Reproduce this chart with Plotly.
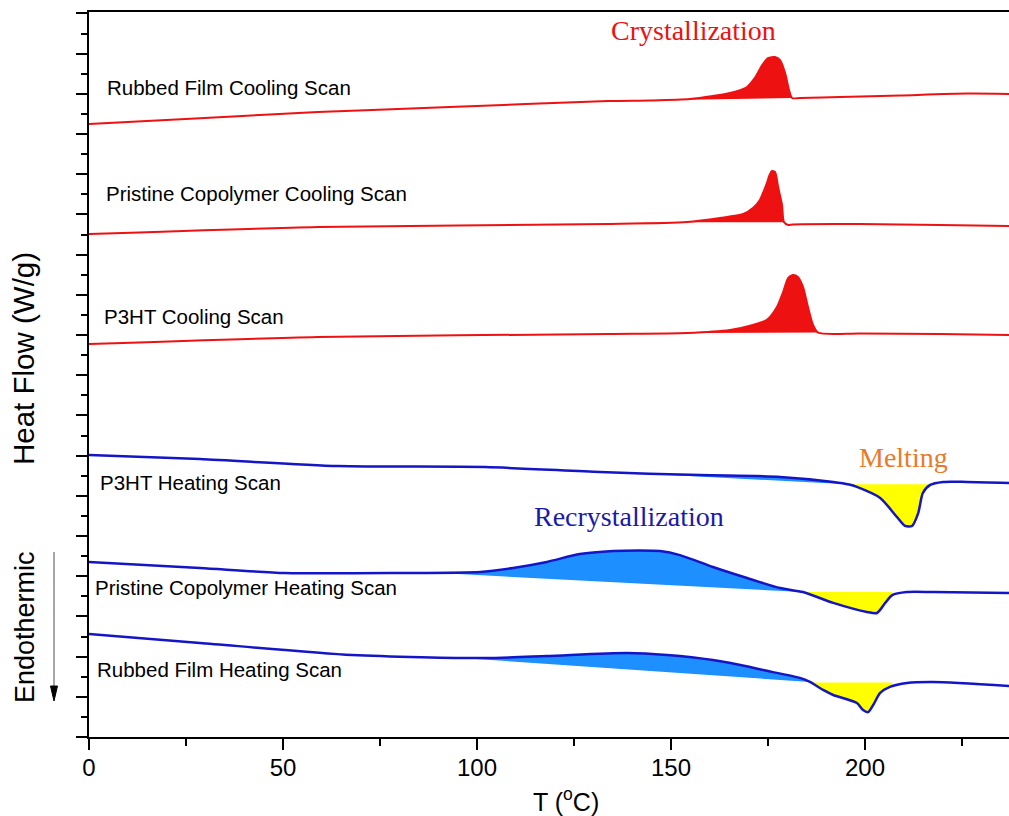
import numpy as np
import plotly.graph_objects as go

# ---- DSC traces: temperature (°C) and stacked heat flow (W/g, offset per scan) ----
rc_T = [0, 28.6, 59.0, 93.0, 133.8, 144.6, 154.9, 160.8, 165.2, 169.6, 171.6, 173.5, 175.0, 176.8,
        178.1, 179.4, 180.4, 181.2, 183.2, 193.6, 209.0, 226.3, 237.1]
rc_HF = [30.50, 30.79, 31.09, 31.34, 31.64, 31.67, 31.74, 31.89, 32.04, 32.34, 32.79, 33.43, 33.78, 33.83,
         33.68, 33.03, 32.19, 31.79, 31.79, 31.84, 31.92, 32.01, 31.99]

pc_T = [0, 59.0, 133.8, 154.1, 162.6, 168.6, 171.1, 172.9, 174.7, 175.4, 176.0, 176.8, 177.6, 178.6,
        179.1, 180.2, 181.4, 198.7, 219.3, 237.1]
pc_HF = [25.02, 25.37, 25.52, 25.62, 25.82, 26.02, 26.32, 26.72, 27.56, 27.96, 28.16, 28.11, 27.36, 26.47,
         25.62, 25.47, 25.50, 25.52, 25.47, 25.42]

p3c_T = [0, 59.0, 133.8, 154.1, 165.2, 171.1, 174.7, 177.3, 178.9, 180.2, 181.4, 182.7, 184.0, 185.3,
         186.6, 187.9, 198.7, 219.3, 237.1]
p3c_HF = [19.55, 19.90, 20.05, 20.10, 20.25, 20.50, 20.75, 21.39, 22.14, 22.84, 22.99, 22.89, 22.39, 21.39,
          20.50, 20.12, 20.08, 20.05, 20.00]

p3h_T = [0, 28.6, 64.2, 102.1, 131.7, 157.5, 178.1, 191.8, 195.9, 197.9, 203.9, 208.2, 210.3, 212.1,
         213.7, 214.9, 216.8, 220.1, 226.3, 237.1]
p3h_HF = [14.03, 13.83, 13.48, 13.43, 13.18, 13.03, 12.94, 12.69, 12.56, 12.44, 11.89, 10.95, 10.50, 10.50,
          11.14, 12.14, 12.54, 12.69, 12.69, 12.64]

ph_T = [0, 28.6, 50.5, 80.2, 100.8, 109.3, 118.0, 126.5, 135.1, 142.0, 147.2, 152.3, 160.8, 169.6,
        178.1, 184.0, 191.8, 200.5, 203.1, 205.2, 207.0, 210.8, 217.5, 237.1]
ph_HF = [8.71, 8.41, 8.16, 8.16, 8.21, 8.41, 8.71, 9.10, 9.25, 9.28, 9.25, 9.05, 8.46, 7.91,
         7.41, 7.21, 6.67, 6.22, 6.17, 6.67, 7.06, 7.21, 7.21, 7.16]

rh_T = [0, 28.6, 67.8, 102.1, 118.0, 138.7, 149.0, 160.8, 170.4, 173.7, 183.2, 185.8, 189.2, 191.8,
        197.9, 199.5, 200.8, 202.1, 203.9, 206.4, 210.8, 217.5, 237.1]
rh_HF = [5.12, 4.68, 4.08, 3.93, 4.03, 4.18, 4.08, 3.83, 3.48, 3.33, 2.94, 2.74, 2.34, 2.09,
         1.69, 1.34, 1.24, 1.59, 2.19, 2.49, 2.69, 2.74, 2.54]

# scan labels: (text, left temperature, heat-flow level)
scan_labels = [
    ("Rubbed Film Cooling Scan", 4.1, 32.29),
    ("Pristine Copolymer Cooling Scan", 3.8, 27.06),
    ("P3HT Cooling Scan", 3.3, 20.90),
    ("P3HT Heating Scan", 2.3, 12.64),
    ("Pristine Copolymer Heating Scan", 1.0, 7.43),
    ("Rubbed Film Heating Scan", 1.5, 3.38),
]

# shaded peak windows (°C)
cryst_windows = [(rc_T, rc_HF, 142.0, 181.2), (pc_T, pc_HF, 152.0, 179.2), (p3c_T, p3c_HF, 154.1, 187.9)]
recryst_windows = [(p3h_T, p3h_HF, 140.0, 195.5), (ph_T, ph_HF, 88.0, 184.0), (rh_T, rh_HF, 93.0, 185.8)]
melt_windows = [(p3h_T, p3h_HF, 195.5, 216.8), (ph_T, ph_HF, 184.0, 207.0), (rh_T, rh_HF, 186.0, 207.0)]

x_ticks = [0, 50, 100, 150, 200]
x_minor = [25, 75, 125, 175, 225]

RED = "#EE1111"
BLUE = "#1515C8"
FILL_BLUE = "#1E8FFF"
YELLOW = "#FFFF00"
SMOOTH = 0.7

# plot-area geometry in pixels (used for placing items outside the axes)
PLOT_L, PLOT_T, PLOT_W, PLOT_H = 89, 12, 920, 725


def px_x(px):
    return (px - PLOT_L) / PLOT_W


def px_y(py):
    return (PLOT_T + PLOT_H - py) / PLOT_H


def segment(T, H, ta, tb):
    T = np.asarray(T, float)
    H = np.asarray(H, float)
    m = (T > ta) & (T < tb)
    xs = np.concatenate([[ta], T[m], [tb]])
    ys = np.concatenate([[np.interp(ta, T, H)], H[m], [np.interp(tb, T, H)]])
    return xs, ys


def add_region(fig, T, H, ta, tb, color, level=False):
    xs, ys = segment(T, H, ta, tb)
    if level:
        base_y = [ys[0], ys[0]]
    else:
        base_y = [ys[0], ys[-1]]
    # straight reference line (invisible) followed by the curve filled down/up to it
    fig.add_trace(go.Scatter(x=[ta, tb], y=base_y, mode="lines", line=dict(width=0),
                             hoverinfo="skip"))
    fig.add_trace(go.Scatter(x=xs, y=ys, mode="lines", fill="tonexty", fillcolor=color,
                             line=dict(width=0, shape="spline", smoothing=SMOOTH),
                             hoverinfo="skip"))


fig = go.Figure()

for T, H, a, b in cryst_windows:
    add_region(fig, T, H, a, b, RED)
for T, H, a, b in recryst_windows:
    add_region(fig, T, H, a, b, FILL_BLUE)
for T, H, a, b in melt_windows:
    add_region(fig, T, H, a, b, YELLOW, level=True)

for T, H in [(rc_T, rc_HF), (pc_T, pc_HF), (p3c_T, p3c_HF)]:
    fig.add_trace(go.Scatter(x=T, y=H, mode="lines",
                             line=dict(color=RED, width=2, shape="spline", smoothing=SMOOTH)))
for T, H in [(p3h_T, p3h_HF), (ph_T, ph_HF), (rh_T, rh_HF)]:
    fig.add_trace(go.Scatter(x=T, y=H, mode="lines",
                             line=dict(color=BLUE, width=2.5, shape="spline", smoothing=SMOOTH)))

for text, t, h in scan_labels:
    fig.add_annotation(x=t, y=h, text=text, showarrow=False, xanchor="left", yanchor="middle",
                       font=dict(family="Liberation Sans", size=20.5, color="black"))

serif = "Liberation Serif"
fig.add_annotation(x=155.7, y=35.17, text="Crystallization", showarrow=False,
                   font=dict(family=serif, size=28, color=RED))
fig.add_annotation(x=139.2, y=10.95, text="Recrystallization", showarrow=False,
                   font=dict(family=serif, size=28, color="#1A1AAA"))
fig.add_annotation(x=209.8, y=13.93, text="Melting", showarrow=False,
                   font=dict(family=serif, size=28, color="#E87A2A"))

# axis titles
fig.add_annotation(xref="paper", yref="paper", x=px_x(566), y=px_y(800),
                   xanchor="center", yanchor="middle",
                   text="T (<sup>o</sup>C)", showarrow=False,
                   font=dict(family="Liberation Sans", size=25, color="black"))
fig.add_annotation(xref="paper", yref="paper", x=px_x(23), y=px_y(359),
                   xanchor="center", yanchor="middle",
                   text="Heat Flow (W/g)", textangle=-90, showarrow=False,
                   font=dict(family="Liberation Sans", size=29.5, color="black"))
fig.add_annotation(xref="paper", yref="paper", x=px_x(25), y=px_y(627),
                   xanchor="center", yanchor="middle",
                   text="Endothermic", textangle=-90, showarrow=False,
                   font=dict(family="Liberation Sans", size=27, color="black"))

# endothermic direction arrow: grey shaft with a black head
fig.add_shape(type="line", xref="paper", yref="paper", x0=px_x(54), x1=px_x(54),
              y0=px_y(552), y1=px_y(688), line=dict(color="#888888", width=1.5))
head = "M {:.5f} {:.5f} L {:.5f} {:.5f} L {:.5f} {:.5f} Z".format(
    px_x(50.5), px_y(686), px_x(57.5), px_y(686), px_x(54), px_y(701))
fig.add_shape(type="path", xref="paper", yref="paper", path=head,
              fillcolor="black", line=dict(color="black", width=1))

fig.update_layout(
    width=1009, height=816,
    margin=dict(l=89, r=0, t=12, b=79),
    plot_bgcolor="white", paper_bgcolor="white",
    showlegend=False,
)
fig.update_xaxes(
    range=[0, 237.1], tickvals=x_ticks, ticktext=[str(v) for v in x_ticks],
    ticks="outside", ticklen=11, tickwidth=2, tickcolor="black",
    showline=True, linewidth=2, linecolor="black", mirror=True,
    showgrid=False, zeroline=False,
    tickfont=dict(family="Liberation Sans", size=24, color="black"),
    minor=dict(tickvals=x_minor, ticks="outside", ticklen=7, tickwidth=2, tickcolor="black", showgrid=False),
)
try:
    fig.update_xaxes(ticklabelstandoff=-3)
except (ValueError, AttributeError):
    pass
fig.update_yaxes(
    range=[0, 36.07], tickvals=list(range(0, 37, 2)),
    ticks="outside", ticklen=11, tickwidth=2, tickcolor="black",
    showline=True, linewidth=2, linecolor="black", mirror=False,
    showgrid=False, zeroline=False, showticklabels=False,
    minor=dict(tickvals=list(range(1, 37, 2)), ticks="outside", ticklen=6, tickwidth=2,
               tickcolor="black", showgrid=False),
)

fig.write_html("out.html")
